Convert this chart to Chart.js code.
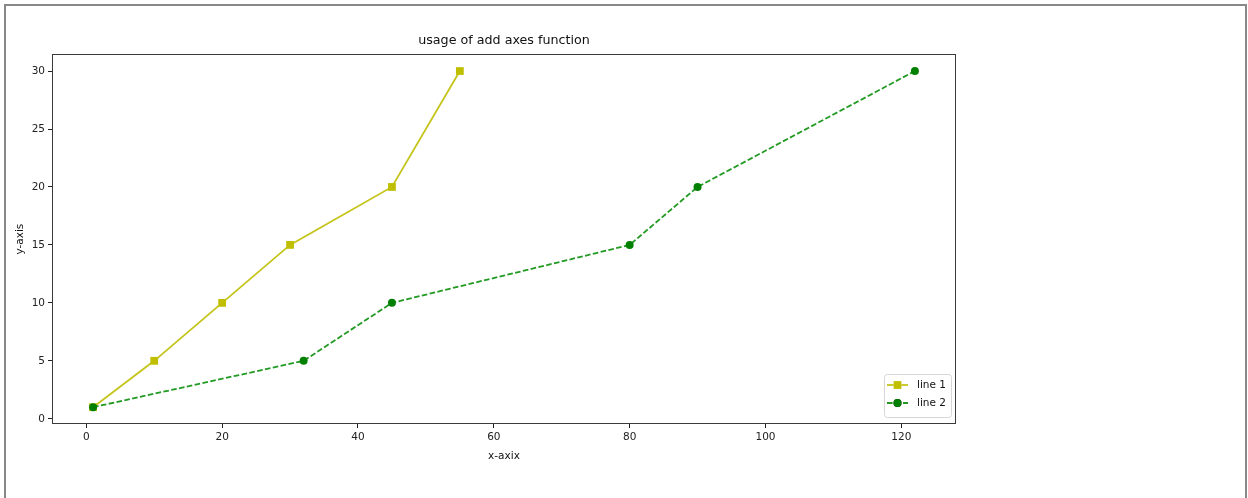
<!DOCTYPE html>
<html>
<head>
<meta charset="utf-8">
<script src="https://cdn.jsdelivr.net/npm/chart.js@4/dist/chart.umd.min.js"></script>
<style>
  html, body { margin: 0; padding: 0; background: #fff; }
  #frame {
    position: absolute; left: 4px; top: 4px; width: 1243px; height: 500px;
    box-sizing: border-box; border: 2px solid #888; border-bottom: none;
  }
  #chart { position: absolute; left: 0; top: 0; }
</style>
</head>
<body>
<div id="frame"></div>
<canvas id="chart" width="1248" height="498"></canvas>
<script>
// Series data
const line1X = [1, 10, 20, 30, 45, 55];
const line1Y = [1, 5, 10, 15, 20, 30];
const line2X = [1, 32, 45, 80, 90, 122];
const line2Y = [1, 5, 10, 15, 20, 30];
const seriesNames = ['line 1', 'line 2'];

// Axis ticks and ranges
const xTicks = [0, 20, 40, 60, 80, 100, 120];
const yTicks = [0, 5, 10, 15, 20, 25, 30];
const xRange = [-5.05, 128.05];
const yRange = [-0.45, 31.45];

const FONT = "'DejaVu Sans', sans-serif";
const toPoints = (xs, ys) => xs.map((x, i) => ({ x: x, y: ys[i] }));

// Frame around the plot area (all four spines)
const spines = {
  id: 'spines',
  afterDatasetsDraw(chart) {
    const a = chart.chartArea, ctx = chart.ctx;
    ctx.save();
    ctx.strokeStyle = '#3a3a3a';
    ctx.lineWidth = 1;
    ctx.strokeRect(Math.round(a.left) + 0.5, Math.round(a.top) + 0.5,
                   Math.round(a.right - a.left) - 1, Math.round(a.bottom - a.top) - 1);
    ctx.restore();
  }
};

// Legend box in the lower right corner of the plot area
const innerLegend = {
  id: 'innerLegend',
  afterDraw(chart) {
    const a = chart.chartArea, ctx = chart.ctx;
    const w = 67, h = 43;
    const x0 = a.right - 5 - w, y0 = a.bottom - 7 - h;
    ctx.save();
    ctx.beginPath();
    ctx.roundRect(x0 + 0.5, y0 + 0.5, w, h, 3);
    ctx.fillStyle = 'rgba(255,255,255,0.85)';
    ctx.fill();
    ctx.strokeStyle = '#d6d6d6';
    ctx.lineWidth = 1;
    ctx.stroke();
    chart.data.datasets.forEach((ds, i) => {
      const cy = y0 + 11 + i * 18;
      const hx0 = x0 + 3, hx1 = x0 + 24, mx = (hx0 + hx1) / 2;
      ctx.beginPath();
      ctx.setLineDash(ds.borderDash || []);
      ctx.strokeStyle = ds.borderColor;
      ctx.lineWidth = ds.borderWidth;
      ctx.moveTo(hx0, cy);
      ctx.lineTo(hx1, cy);
      ctx.stroke();
      ctx.setLineDash([]);
      Chart.helpers.drawPoint(ctx, {
        pointStyle: ds.pointStyle, radius: ds.pointRadius, borderWidth: 0
      }, mx, cy);
      ctx.fillStyle = ds.pointBackgroundColor;
      ctx.fill();
      ctx.fillStyle = '#111';
      ctx.font = '10.5px ' + FONT;
      ctx.textBaseline = 'middle';
      ctx.textAlign = 'left';
      ctx.fillText(seriesNames[i], x0 + 33, cy);
    });
    ctx.restore();
  }
};

const axisTick = { color: '#222', font: { family: FONT, size: 10.5 }, padding: 3 };

new Chart(document.getElementById('chart'), {
  type: 'line',
  data: {
    datasets: [
      {
        label: seriesNames[0],
        data: toPoints(line1X, line1Y),
        borderColor: '#c4c41a',
        borderWidth: 1.8,
        pointStyle: 'rect',
        pointRadius: 5.5,
        pointHoverRadius: 5.5,
        pointBorderWidth: 0,
        pointBackgroundColor: '#bfbf00',
        pointBorderColor: '#bfbf00',
        tension: 0,
        order: 1
      },
      {
        label: seriesNames[1],
        data: toPoints(line2X, line2Y),
        borderColor: '#239a23',
        borderWidth: 1.8,
        borderDash: [5.6, 2.4],
        pointStyle: 'circle',
        pointRadius: 4,
        pointHoverRadius: 4,
        pointBorderWidth: 0,
        pointBackgroundColor: '#008000',
        pointBorderColor: '#008000',
        tension: 0,
        order: 0
      }
    ]
  },
  options: {
    responsive: false,
    animation: false,
    events: [],
    clip: false,
    layout: { padding: { left: 0, right: 292, top: 0, bottom: 0 } },
    plugins: {
      legend: { display: false },
      tooltip: { enabled: false },
      title: {
        display: true,
        fullSize: false,
        text: 'usage of add axes function',
        color: '#111',
        font: { family: FONT, size: 12.7, weight: 'normal', lineHeight: 1.2 },
        padding: { top: 33, bottom: 6 }
      }
    },
    scales: {
      x: {
        type: 'linear',
        min: xRange[0], max: xRange[1],
        afterBuildTicks: s => { s.ticks = xTicks.map(v => ({ value: v })); },
        afterFit: s => { s.height = 74; },
        ticks: Object.assign({}, axisTick, { maxRotation: 0, autoSkip: false }),
        grid: { drawOnChartArea: false, drawTicks: true, tickLength: 4, color: '#222', tickWidth: 1 },
        border: { display: false },
        title: {
          display: true, text: 'x-axix', color: '#111',
          font: { family: FONT, size: 10.5, lineHeight: 1.2 },
          padding: { top: 0, bottom: 35.7 }
        }
      },
      y: {
        type: 'linear',
        min: yRange[0], max: yRange[1],
        afterBuildTicks: s => { s.ticks = yTicks.map(v => ({ value: v })); },
        afterFit: s => { s.width = 52; },
        ticks: Object.assign({}, axisTick, { autoSkip: false }),
        grid: { drawOnChartArea: false, drawTicks: true, tickLength: 4, color: '#222', tickWidth: 1 },
        border: { display: false },
        title: {
          display: true, text: 'y-axis', color: '#111',
          font: { family: FONT, size: 10.5, lineHeight: 1.2 },
          padding: { top: 13.7, bottom: 0 }
        }
      }
    }
  },
  plugins: [spines, innerLegend]
});
</script>
</body>
</html>
